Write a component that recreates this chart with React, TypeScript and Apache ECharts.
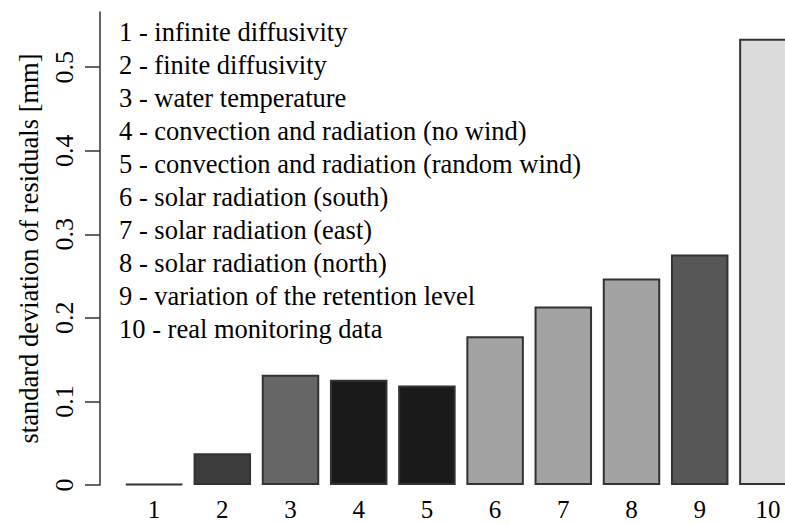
import React, { useEffect, useRef } from "react";
import * as echarts from "echarts";

// Scenario numbers along the x axis
const categories = ["1", "2", "3", "4", "5", "6", "7", "8", "9", "10"];

// Standard deviation of residuals [mm] per scenario
const residualSd = [0.001, 0.038, 0.132, 0.126, 0.119, 0.178, 0.2135, 0.247, 0.2757, 0.534];

// Grey fill for each bar
const barFills = ["#9a9a9a", "#3c3c3c", "#666666", "#1a1a1a", "#1a1a1a", "#a3a3a3", "#a3a3a3", "#a3a3a3", "#575757", "#dbdbdb"];

// Labelled ticks of the y axis
const yTicks = [0, 0.1, 0.2, 0.3, 0.4, 0.5];

// Key to the scenario numbers
const scenarioLabels = [
  "1 - infinite diffusivity",
  "2 - finite diffusivity",
  "3 - water temperature",
  "4 - convection and radiation (no wind)",
  "5 - convection and radiation (random wind)",
  "6 - solar radiation (south)",
  "7 - solar radiation (east)",
  "8 - solar radiation (north)",
  "9 - variation of the retention level",
  "10 - real monitoring data",
];

const FONT = "Liberation Serif";
const INK = "#000000";
const LINE = "#333333";

export default function App() {
  const ref = useRef<HTMLDivElement>(null);

  useEffect(() => {
    if (!ref.current) return;
    const chart = echarts.init(ref.current, undefined, { renderer: "svg" });

    chart.setOption({
      animation: false,
      backgroundColor: "#ffffff",
      grid: { left: 120, width: 682, top: 12, bottom: 39, outerBoundsMode: "none", containLabel: false },
      xAxis: {
        type: "category",
        data: categories,
        axisLine: { show: false },
        axisTick: { show: false },
        axisLabel: { fontFamily: FONT, fontSize: 25, color: INK, margin: 12 },
      },
      yAxis: {
        type: "value",
        min: 0,
        max: 0.566,
        offset: 20,
        splitLine: { show: false },
        axisLine: { show: true, lineStyle: { color: LINE, width: 1.5 } },
        axisTick: { show: true, length: 15, customValues: yTicks, lineStyle: { color: LINE, width: 1.5 } },
        axisLabel: {
          rotate: 90,
          customValues: yTicks,
          fontFamily: FONT,
          fontSize: 26,
          color: INK,
          margin: 23,
        },
        name: "standard deviation of residuals [mm]",
        nameLocation: "middle",
        nameRotate: 90,
        nameGap: 58,
        nameTextStyle: { fontFamily: FONT, fontSize: 26.5, color: INK },
      },
      series: [
        {
          type: "bar",
          barWidth: 57.5,
          data: residualSd.map((v, i) => ({ value: v, itemStyle: { color: barFills[i] } })),
          itemStyle: { borderColor: LINE, borderWidth: 2 },
        },
      ],
      graphic: scenarioLabels.map((t, i) => ({
        type: "text",
        x: 119,
        y: 31.5 + i * 33.1,
        style: {
          text: t,
          fontFamily: FONT,
          fontSize: 26.5,
          fill: INK,
          align: "left",
          verticalAlign: "middle",
        },
      })),
    });

    return () => chart.dispose();
  }, []);

  return (
    <div
      ref={ref}
      style={{ position: "fixed", left: 0, top: 0, width: 785, height: 524, background: "#fff" }}
    />
  );
}
